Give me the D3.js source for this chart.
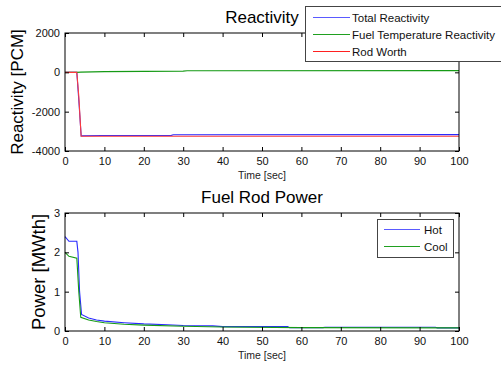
<!DOCTYPE html>
<html>
<head>
<meta charset="utf-8">
<script src="https://cdn.jsdelivr.net/npm/d3@7"></script>
<style>
  body { margin: 0; background: #fff; }
  svg { display: block; font-family: "Liberation Sans", Arial, sans-serif; }
  .tick text { font-size: 11px; fill: #111; }
  .tick line { stroke: #000; }
</style>
</head>
<body>
<div id="chart"></div>
<script>
// top panel: reactivity [PCM] vs time [sec]
const totalT = [0, 3, 3.6, 4.1, 9.5, 27, 27.5, 100];
const totalV = [0, 0, -1700, -3230, -3210, -3205, -3175, -3165];
const fuelT = [0, 3, 4, 10, 30, 31, 100];
const fuelV = [0, 0, 10, 35, 60, 80, 85];
const rodT = [0, 3, 3.5, 3.9, 4.1, 100];
const rodV = [0, 0, -1200, -2600, -3250, -3250];

// bottom panel: fuel rod power [MWth] vs time [sec]
const hotT = [0, 1, 3, 3.3, 3.7, 4.2, 6, 8, 10, 15, 20, 26, 30, 37.5, 40, 56.5, 57, 65.5, 66, 94, 94.5, 100];
const hotV = [2.4, 2.28, 2.28, 2.0, 1.0, 0.42, 0.33, 0.28, 0.25, 0.21, 0.18, 0.16, 0.14, 0.13, 0.11, 0.11, 0.085, 0.085, 0.095, 0.095, 0.08, 0.08];
const coolT = [0, 1, 3, 3.5, 4.0, 6, 8, 10, 15, 20, 30, 40, 60, 100];
const coolV = [2.0, 1.9, 1.85, 1.0, 0.35, 0.28, 0.24, 0.21, 0.17, 0.15, 0.12, 0.1, 0.085, 0.08];

const xTicks = [0, 10, 20, 30, 40, 50, 60, 70, 80, 90, 100];
const reactTicks = [-4000, -2000, 0, 2000];
const powerTicks = [0, 1, 2, 3];

const svg = d3.select("#chart").append("svg")
    .attr("width", 501)
    .attr("height", 365);

function panel(o) {
    const x = d3.scaleLinear().domain([0, 100]).range([65, 459]);
    const y = d3.scaleLinear().domain(o.ydom).range([o.bottom, o.top]);
    const g = svg.append("g");

    const line = d3.line().x(d => x(d[0])).y(d => y(d[1]));
    o.series.forEach(s => {
        g.append("path")
            .attr("d", line(d3.zip(s.t, s.v)))
            .attr("fill", "none")
            .attr("stroke", s.color)
            .attr("stroke-width", 1.1);
    });

    g.append("g").attr("transform", `translate(0,${o.bottom})`)
        .call(d3.axisBottom(x).tickValues(xTicks).tickSizeInner(-4).tickSizeOuter(0).tickPadding(6).tickFormat(d => String(d)));
    g.append("g").attr("transform", `translate(0,${o.top})`)
        .call(d3.axisTop(x).tickValues(xTicks).tickSizeInner(-4).tickSizeOuter(0).tickFormat(""));
    g.append("g").attr("transform", "translate(65,0)")
        .call(d3.axisLeft(y).tickValues(o.yticks).tickSizeInner(-4).tickSizeOuter(0).tickPadding(5).tickFormat(d => String(d)));
    g.append("g").attr("transform", "translate(459,0)")
        .call(d3.axisRight(y).tickValues(o.yticks).tickSizeInner(-4).tickSizeOuter(0).tickFormat(""));
    g.selectAll(".domain").remove();

    g.append("rect")
        .attr("x", 65).attr("y", o.top)
        .attr("width", 394).attr("height", o.bottom - o.top)
        .attr("fill", "none").attr("stroke", "#000");

    g.append("text")
        .attr("x", 262).attr("y", o.top - 10)
        .attr("text-anchor", "middle")
        .attr("font-size", "17px")
        .text(o.title);
    g.append("text")
        .attr("x", 262).attr("y", o.bottom + 28)
        .attr("text-anchor", "middle")
        .attr("font-size", "10.5px")
        .attr("fill", "#222")
        .text("Time [sec]");
    g.append("text")
        .attr("transform", `translate(${o.ylabX},${(o.top + o.bottom) / 2}) rotate(-90)`)
        .attr("text-anchor", "middle")
        .attr("font-size", o.ylabSize)
        .text(o.ylabel);

    const lg = o.legend;
    const lgG = g.append("g");
    lgG.append("rect")
        .attr("x", lg.x + 0.5).attr("y", lg.y + 0.5)
        .attr("width", lg.w).attr("height", lg.h)
        .attr("fill", "#fff").attr("stroke", "#444");
    o.series.forEach((s, i) => {
        const yy = lg.y + lg.first + i * lg.step;
        lgG.append("line")
            .attr("x1", lg.x + lg.l1).attr("x2", lg.x + lg.l2)
            .attr("y1", yy).attr("y2", yy)
            .attr("stroke", s.legColor).attr("stroke-width", 1);
        lgG.append("text")
            .attr("x", lg.x + lg.tx).attr("y", yy + 4)
            .attr("font-size", "11.5px")
            .attr("fill", "#111")
            .text(s.name);
    });
}

panel({
    top: 33, bottom: 151, ydom: [-4000, 2000], yticks: reactTicks,
    title: "Reactivity", ylabel: "Reactivity [PCM]", ylabX: 23, ylabSize: "17px",
    series: [
        { name: "Total Reactivity", t: totalT, v: totalV, color: "#2a2aff", legColor: "#5a5aff" },
        { name: "Fuel Temperature Reactivity", t: fuelT, v: fuelV, color: "#159a15", legColor: "#20a020" },
        { name: "Rod Worth", t: rodT, v: rodV, color: "#ff3a3a", legColor: "#ff2020" }
    ],
    legend: { x: 305, y: 6, w: 200, h: 55, first: 11.5, step: 17, l1: 8, l2: 45, tx: 47 }
});

panel({
    top: 213, bottom: 331, ydom: [0, 3], yticks: powerTicks,
    title: "Fuel Rod Power", ylabel: "Power [MWth]", ylabX: 45, ylabSize: "18.5px",
    series: [
        { name: "Hot", t: hotT, v: hotV, color: "#2a2aff", legColor: "#5a5aff" },
        { name: "Cool", t: coolT, v: coolV, color: "#159a15", legColor: "#20a020" }
    ],
    legend: { x: 377, y: 219, w: 76, h: 38, first: 10.5, step: 17, l1: 7, l2: 43, tx: 47 }
});
</script>
</body>
</html>
